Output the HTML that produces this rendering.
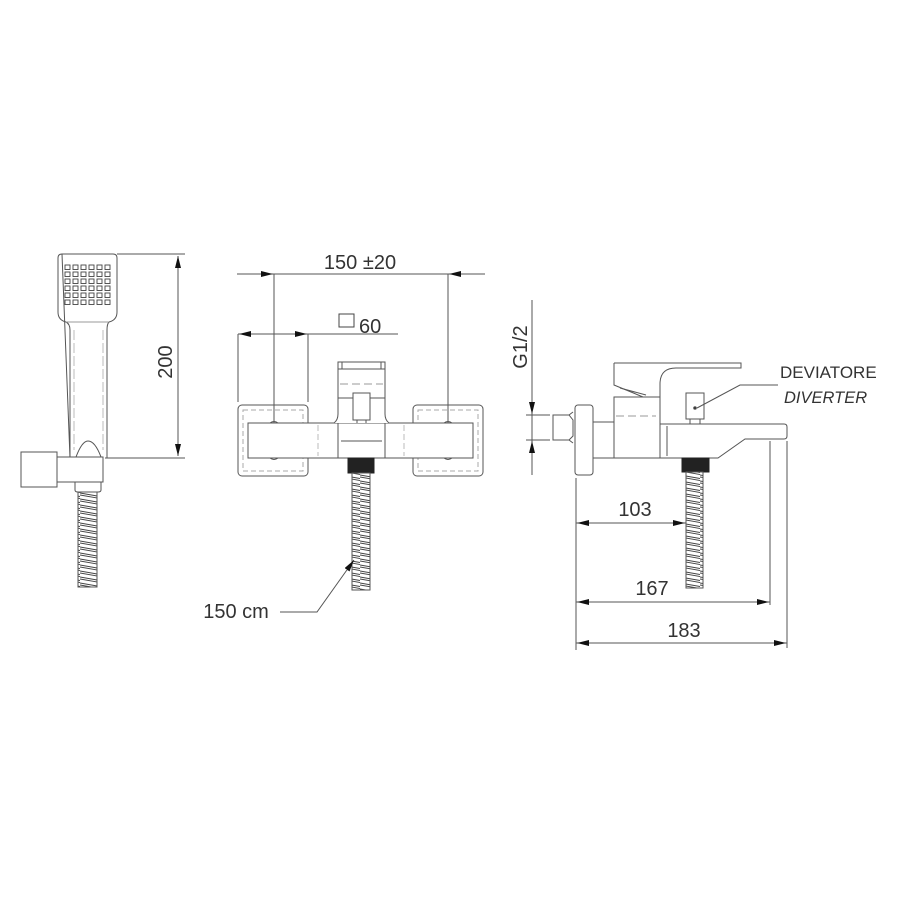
<!DOCTYPE html>
<html><head><meta charset="utf-8"><style>
html,body{margin:0;padding:0;background:#fff}
svg{display:block}
text{font-family:"Liberation Sans",sans-serif;fill:#333}
</style></head><body>
<svg width="900" height="900" viewBox="0 0 900 900" xmlns="http://www.w3.org/2000/svg">
<defs>
<pattern id="hose" width="20" height="6" patternUnits="userSpaceOnUse">
<path d="M0 1 L20 4.5 M0 3 L20 6.5 M0 -3 L20 0.5" stroke="#444" stroke-width="0.9" fill="none"/>
</pattern>
<marker id="ar" markerWidth="12" markerHeight="6" refX="12" refY="3" orient="auto" markerUnits="userSpaceOnUse">
<path d="M0 0 L12 3 L0 6 Z" fill="#111"/>
</marker>
</defs>
<g fill="none" stroke="#555" stroke-width="1">
<!-- HAND SHOWER -->
<path d="M62 254 H113 Q117 254 117 258 V312 Q117 320 109 322 Q107 324 107 330 V458 M70 458 V330 Q70 324 66 322 Q58 320 58 312 V258 Q58 254 62 254 Z"/>
<path d="M66 322 H109" stroke="#999"/>
<path d="M74 330 V450 M103 330 V450" stroke="#bbb" stroke-dasharray="10 3"/>
<g stroke="#444" stroke-width="0.9">
<rect x="65" y="265" width="5" height="4.5"/><rect x="73" y="265" width="5" height="4.5"/><rect x="81" y="265" width="5" height="4.5"/><rect x="89" y="265" width="5" height="4.5"/><rect x="97" y="265" width="5" height="4.5"/><rect x="105" y="265" width="5" height="4.5"/>
<rect x="65" y="272" width="5" height="4.5"/><rect x="73" y="272" width="5" height="4.5"/><rect x="81" y="272" width="5" height="4.5"/><rect x="89" y="272" width="5" height="4.5"/><rect x="97" y="272" width="5" height="4.5"/><rect x="105" y="272" width="5" height="4.5"/>
<rect x="65" y="279" width="5" height="4.5"/><rect x="73" y="279" width="5" height="4.5"/><rect x="81" y="279" width="5" height="4.5"/><rect x="89" y="279" width="5" height="4.5"/><rect x="97" y="279" width="5" height="4.5"/><rect x="105" y="279" width="5" height="4.5"/>
<rect x="65" y="286" width="5" height="4.5"/><rect x="73" y="286" width="5" height="4.5"/><rect x="81" y="286" width="5" height="4.5"/><rect x="89" y="286" width="5" height="4.5"/><rect x="97" y="286" width="5" height="4.5"/><rect x="105" y="286" width="5" height="4.5"/>
<rect x="65" y="293" width="5" height="4.5"/><rect x="73" y="293" width="5" height="4.5"/><rect x="81" y="293" width="5" height="4.5"/><rect x="89" y="293" width="5" height="4.5"/><rect x="97" y="293" width="5" height="4.5"/><rect x="105" y="293" width="5" height="4.5"/>
<rect x="65" y="300" width="5" height="4.5"/><rect x="73" y="300" width="5" height="4.5"/><rect x="81" y="300" width="5" height="4.5"/><rect x="89" y="300" width="5" height="4.5"/><rect x="97" y="300" width="5" height="4.5"/><rect x="105" y="300" width="5" height="4.5"/>
</g>
<rect x="21" y="452" width="36" height="35"/>
<rect x="57" y="457" width="46" height="25" fill="#fff"/>
<path d="M76 457 Q82 441 88 441 Q95 441 101 457" />
<path d="M75 482 V490 Q75 492 78 492 H98 Q101 492 101 490 V482"/>
<rect x="78" y="492" width="19" height="95" fill="url(#hose)"/>
<!-- dim 200 -->
<path d="M117 254 H185 M105 458 H185"/>
<path d="M178 280 V256" marker-end="url(#ar)"/><path d="M178 432 V456" marker-end="url(#ar)"/>
<path d="M178 270 V442"/>

<!-- FRONT VIEW -->
<path d="M237 274 H485"/>
<path d="M240 274 H273" marker-end="url(#ar)"/><path d="M482 274 H449" marker-end="url(#ar)"/>
<path d="M274 274 V435 M448 274 V435"/>
<path d="M238 334 H398 M238 334 V402 M308 334 V402"/>
<path d="M265 334 H239" marker-end="url(#ar)"/><path d="M280 334 H307" marker-end="url(#ar)"/>
<rect x="339" y="314" width="15" height="13" stroke="#444"/>
<rect x="238" y="405" width="70" height="71" rx="4"/>
<rect x="243" y="410" width="60" height="61" stroke="#aaa" stroke-dasharray="5 3"/>
<rect x="413" y="405" width="70" height="71" rx="4"/>
<rect x="418" y="410" width="60" height="61" stroke="#aaa" stroke-dasharray="5 3"/>
<rect x="248" y="423" width="225" height="35" fill="#fff"/>
<path d="M334 423 Q338 420 338 414 V398 H385 V414 Q385 420 389 423" fill="#fff"/>
<rect x="338" y="362" width="47" height="36" fill="#fff"/>
<path d="M338 369 H385 M342 362 V369 M381 362 V369"/>
<path d="M340 384 H383" stroke="#999" stroke-dasharray="8 4"/>
<path d="M338 398 H385"/>
<rect x="353" y="393" width="17" height="27" fill="#fff"/>
<path d="M357 420 V423 M366 420 V423"/>
<path d="M338 423 V458 M385 423 V458 M341 441 H382"/>
<path d="M318 425 V456 M404 425 V456" stroke="#bbb" stroke-dasharray="6 3"/>
<path d="M270 423 Q274 420 278 423 M270 458 Q274 461 278 458 M444 423 Q448 420 452 423 M444 458 Q448 461 452 458"/>
<rect x="348" y="458" width="26" height="15" fill="#222" stroke="#222"/>
<rect x="352" y="473" width="18" height="117" fill="url(#hose)"/>
<path d="M280 612 H317 L354 560" marker-end="url(#ar)"/>

<!-- SIDE VIEW -->
<path d="M532 300 V475"/>
<path d="M532 394 V414" marker-end="url(#ar)"/><path d="M532 462 V441" marker-end="url(#ar)"/>
<path d="M526 415 H550 M526 440 H550"/>
<path d="M553 415 H569 L573 420 V436 L569 440 H553 Z"/>
<path d="M569 415 L573 412 M569 440 L573 443"/>
<rect x="575" y="405" width="18" height="70" rx="3"/>
<rect x="593" y="422" width="21" height="36"/>
<!-- lever -->
<path d="M614 363 H741 V368 H676 Q660 368 660 384 V422"/>
<path d="M614 363 V385 L643 397 L614 397"/>
<path d="M620 388 L646 395"/>
<rect x="614" y="397" width="46" height="61" fill="#fff"/>
<path d="M616 416 H656" stroke="#999" stroke-dasharray="8 4"/>
<path d="M660 424 H784 Q787 424 787 427 V436 Q787 439 784 439 H745 L718 458 H614"/>
<path d="M667 426 V456 M770 441 V605 M787 441 V648" stroke="#555"/>
<rect x="686" y="393" width="18" height="26" fill="#fff"/>
<path d="M690 419 V424 M700 419 V424"/>
<circle cx="695" cy="408" r="1.3" fill="#222"/>
<path d="M697 408 L740 385 H778"/>
<rect x="682" y="458" width="27" height="14" fill="#222" stroke="#222"/>
<rect x="686" y="472" width="17" height="116" fill="url(#hose)"/>
<path d="M576 478 V650"/>
<path d="M576 523 H686"/>
<path d="M600 523 H577" marker-end="url(#ar)"/><path d="M664 523 H685" marker-end="url(#ar)"/>
<path d="M576 602 H770"/>
<path d="M600 602 H577" marker-end="url(#ar)"/><path d="M748 602 H769" marker-end="url(#ar)"/>
<path d="M576 643 H787"/>
<path d="M600 643 H577" marker-end="url(#ar)"/><path d="M765 643 H786" marker-end="url(#ar)"/>
</g>
<text x="360" y="269" font-size="20" text-anchor="middle">150 ±20</text>
<text x="359" y="333" font-size="20">60</text>
<text x="172" y="362" font-size="20" text-anchor="middle" transform="rotate(-90 172 362)">200</text>
<text x="527" y="347" font-size="20" text-anchor="middle" transform="rotate(-90 527 347)">G1/2</text>
<text x="780" y="378" font-size="17">DEVIATORE</text>
<text x="784" y="403" font-size="16.5" font-style="italic">DIVERTER</text>
<text x="236" y="618" font-size="20" text-anchor="middle">150 cm</text>
<text x="635" y="516" font-size="20" text-anchor="middle">103</text>
<text x="652" y="595" font-size="20" text-anchor="middle">167</text>
<text x="684" y="637" font-size="20" text-anchor="middle">183</text>
</svg>
</body></html>
